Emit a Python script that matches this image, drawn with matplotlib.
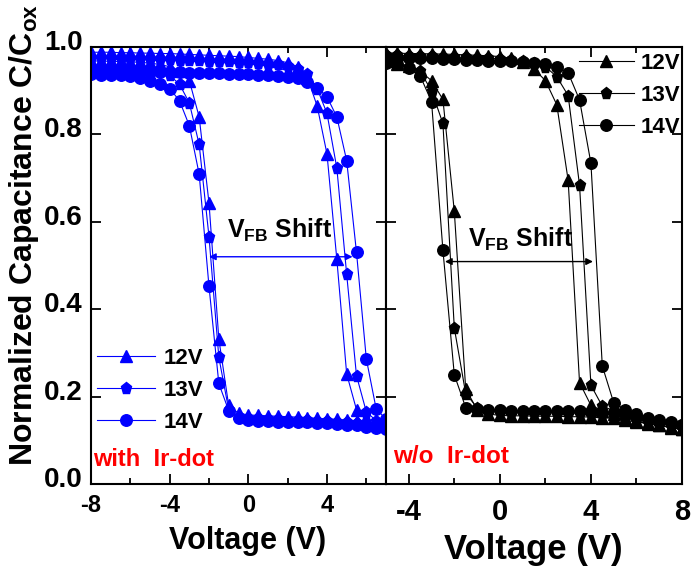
import matplotlib
matplotlib.use('Agg')
import matplotlib.pyplot as plt
from matplotlib.ticker import MultipleLocator
from matplotlib.transforms import ScaledTranslation

plt.rcParams['font.family'] = ['Liberation Sans', 'DejaVu Sans']
plt.rcParams['font.weight'] = 'bold'
plt.rcParams['axes.unicode_minus'] = False
plt.rcParams['mathtext.fontset'] = 'custom'
plt.rcParams['mathtext.rm'] = 'Liberation Sans:bold'
plt.rcParams['mathtext.bf'] = 'Liberation Sans:bold'
plt.rcParams['mathtext.it'] = 'Liberation Sans:bold'

# gate voltage sweep (V)
volt = [-8, -7.5, -7, -6.5, -6, -5.5, -5, -4.5, -4, -3.5, -3, -2.5, -2, -1.5, -1, -0.5,
        0, 0.5, 1, 1.5, 2, 2.5, 3, 3.5, 4, 4.5, 5, 5.5, 6, 6.5, 7, 7.5, 8]

# with Ir-dot, forward (up) and reverse (dn) sweeps
with_12_up = [0.988, 0.988, 0.988, 0.987, 0.987, 0.986, 0.986, 0.985, 0.985, 0.984, 0.983, 0.982, 0.981, 0.980, 0.979, 0.978,
              0.976, 0.974, 0.972, 0.969, 0.964, 0.955, 0.930, 0.865, 0.755, 0.514, 0.252, 0.170, 0.150, 0.140, 0.134, 0.129, 0.125]
with_12_dn = [0.968, 0.968, 0.967, 0.967, 0.966, 0.965, 0.963, 0.960, 0.955, 0.945, 0.923, 0.840, 0.643, 0.332, 0.180, 0.162,
              0.158, 0.157, 0.156, 0.155, 0.154, 0.153, 0.152, 0.150, 0.149, 0.148, 0.146, 0.144, 0.141, 0.137, 0.133, 0.129, 0.126]
with_13_up = [0.975, 0.975, 0.975, 0.974, 0.974, 0.973, 0.973, 0.972, 0.972, 0.971, 0.970, 0.970, 0.969, 0.968, 0.967, 0.966,
              0.965, 0.964, 0.962, 0.960, 0.957, 0.950, 0.938, 0.905, 0.848, 0.723, 0.480, 0.248, 0.165, 0.145, 0.137, 0.132, 0.128]
with_13_dn = [0.955, 0.955, 0.954, 0.954, 0.953, 0.952, 0.950, 0.945, 0.935, 0.915, 0.872, 0.777, 0.566, 0.290, 0.170, 0.154,
              0.151, 0.150, 0.149, 0.148, 0.147, 0.146, 0.146, 0.145, 0.144, 0.143, 0.141, 0.139, 0.136, 0.133, 0.130, 0.127, 0.124]
with_14_up = [0.945, 0.945, 0.945, 0.944, 0.944, 0.944, 0.943, 0.943, 0.942, 0.942, 0.941, 0.941, 0.940, 0.940, 0.939, 0.939,
              0.938, 0.937, 0.936, 0.934, 0.932, 0.928, 0.920, 0.907, 0.886, 0.840, 0.740, 0.530, 0.286, 0.172, 0.148, 0.138, 0.132]
with_14_dn = [0.938, 0.937, 0.936, 0.935, 0.934, 0.930, 0.923, 0.916, 0.905, 0.877, 0.820, 0.709, 0.452, 0.230, 0.168, 0.150,
              0.146, 0.145, 0.144, 0.143, 0.142, 0.142, 0.141, 0.140, 0.139, 0.138, 0.136, 0.134, 0.131, 0.128, 0.125, 0.122, 0.119]

# w/o Ir-dot
wo_12_up = [0.988, 0.988, 0.988, 0.987, 0.987, 0.987, 0.986, 0.986, 0.985, 0.985, 0.984, 0.984, 0.983, 0.982, 0.981, 0.980,
            0.978, 0.974, 0.966, 0.950, 0.923, 0.868, 0.695, 0.232, 0.180, 0.168, 0.160, 0.152, 0.145, 0.139, 0.134, 0.129, 0.125]
wo_12_dn = [0.972, 0.972, 0.971, 0.971, 0.970, 0.969, 0.967, 0.962, 0.956, 0.945, 0.923, 0.880, 0.624, 0.218, 0.170, 0.160,
            0.157, 0.156, 0.156, 0.155, 0.155, 0.155, 0.154, 0.154, 0.153, 0.152, 0.150, 0.146, 0.142, 0.138, 0.134, 0.130, 0.126]
wo_13_up = [0.983, 0.983, 0.983, 0.982, 0.982, 0.982, 0.981, 0.981, 0.980, 0.980, 0.979, 0.978, 0.977, 0.976, 0.975, 0.974,
            0.973, 0.971, 0.968, 0.963, 0.955, 0.932, 0.889, 0.684, 0.226, 0.178, 0.168, 0.160, 0.152, 0.146, 0.140, 0.135, 0.130]
wo_13_dn = [0.976, 0.976, 0.975, 0.975, 0.974, 0.972, 0.969, 0.963, 0.955, 0.944, 0.900, 0.825, 0.357, 0.207, 0.175, 0.168,
            0.166, 0.165, 0.165, 0.164, 0.164, 0.163, 0.163, 0.162, 0.162, 0.161, 0.158, 0.153, 0.148, 0.143, 0.139, 0.135, 0.131]
wo_14_up = [0.978, 0.978, 0.978, 0.977, 0.977, 0.977, 0.976, 0.976, 0.975, 0.975, 0.974, 0.973, 0.972, 0.971, 0.970, 0.969,
            0.968, 0.967, 0.966, 0.964, 0.961, 0.955, 0.941, 0.879, 0.734, 0.270, 0.186, 0.170, 0.160, 0.152, 0.146, 0.141, 0.136]
wo_14_dn = [0.968, 0.968, 0.967, 0.967, 0.966, 0.965, 0.963, 0.960, 0.952, 0.934, 0.875, 0.535, 0.250, 0.175, 0.172, 0.170,
            0.169, 0.168, 0.168, 0.167, 0.167, 0.167, 0.166, 0.166, 0.165, 0.165, 0.163, 0.158, 0.153, 0.148, 0.143, 0.139, 0.135]

labels = ['12V', '13V', '14V']
markers = ['^', 'p', 'o']

fig = plt.figure(figsize=(6.91, 5.72), dpi=100)
ax1 = fig.add_axes([91 / 691, 88 / 572, 295 / 691, 437 / 572])
ax2 = fig.add_axes([386 / 691, 88 / 572, 296 / 691, 437 / 572])

with_sets = [(with_12_up, with_12_dn), (with_13_up, with_13_dn), (with_14_up, with_14_dn)]
wo_sets = [(wo_12_up, wo_12_dn), (wo_13_up, wo_13_dn), (wo_14_up, wo_14_dn)]

loop_v = volt + volt[::-1]
for (up, dn), lab, mk in zip(with_sets, labels, markers):
    ax1.plot(loop_v, up + dn[::-1], color='blue', marker=mk, ms=8.3, lw=0.8, label=lab)
for (up, dn), lab, mk in zip(wo_sets, labels, markers):
    ax2.plot(loop_v, up + dn[::-1], color='black', marker=mk, ms=8.3, lw=0.8, label=lab)

ax1.set_xlim(-8, 7)
ax2.set_xlim(-5, 8)
for ax in (ax1, ax2):
    ax.set_ylim(0, 1.0)
    ax.xaxis.set_major_locator(MultipleLocator(4))
    ax.xaxis.set_minor_locator(MultipleLocator(2))
    ax.yaxis.set_major_locator(MultipleLocator(0.2))
    ax.tick_params(which='both', direction='in', top=True, right=True, width=1.3)
    ax.tick_params(which='major', length=7)
    ax.tick_params(which='minor', length=4)
    for sp in ax.spines.values():
        sp.set_linewidth(1.5)

ax1.tick_params(axis='x', labelsize=17, pad=7)
ax1.tick_params(axis='y', labelsize=20, pad=6)
ax2.tick_params(axis='x', labelsize=21, pad=10)
ax2.tick_params(axis='y', labelleft=False)

ax1.set_yticks([0.0, 0.2, 0.4, 0.6, 0.8, 1.0])
ax1.set_yticklabels(['0.0', '0.2', '0.4', '0.6', '0.8', '1.0'])
shift = ScaledTranslation(0, 7 / 100, fig.dpi_scale_trans)
for lbl in ax1.get_yticklabels():
    lbl.set_transform(lbl.get_transform() + shift)

ax1.set_ylabel(r'Normalized Capacitance C/C$_{\mathbf{ox}}$', fontsize=23, fontweight='bold')
ax1.yaxis.set_label_coords(-0.17, 0.571)
ax1.set_xlabel('Voltage (V)', fontsize=22, fontweight='bold')
ax1.xaxis.set_label_coords(0.53, -0.095)
ax2.set_xlabel('Voltage (V)', fontsize=25, fontweight='bold')
ax2.xaxis.set_label_coords(0.498, -0.112)

ax1.legend(loc='upper left', bbox_to_anchor=(0.02, 0.312), frameon=False,
           prop={'size': 16, 'weight': 'bold'}, handlelength=2.6, handletextpad=0.4,
           labelspacing=0.5, borderpad=0, borderaxespad=0)
ax2.legend(loc='upper right', bbox_to_anchor=(0.995, 0.987), frameon=False,
           prop={'size': 16, 'weight': 'bold'}, handlelength=2.5, handletextpad=0.3,
           labelspacing=0.5, borderpad=0, borderaxespad=0)

ax1.annotate('', xy=(-2.0, 0.52), xytext=(5.3, 0.52),
             arrowprops=dict(arrowstyle='<|-|>', color='blue', lw=1, mutation_scale=10, shrinkA=0, shrinkB=0))
ax1.text(-1.1, 0.564, r'V$_{\mathbf{FB}}$ Shift', fontsize=18, fontweight='bold', ha='left', va='baseline')
ax2.annotate('', xy=(-2.41, 0.509), xytext=(4.09, 0.509),
             arrowprops=dict(arrowstyle='<|-|>', color='black', lw=1, mutation_scale=10, shrinkA=0, shrinkB=0))
ax2.text(-1.4, 0.543, r'V$_{\mathbf{FB}}$ Shift', fontsize=18, fontweight='bold', ha='left', va='baseline')

ax1.text(-7.9, 0.041, 'with  Ir-dot', color='red', fontsize=17, fontweight='bold', ha='left', va='baseline')
ax2.text(-4.7, 0.048, 'w/o  Ir-dot', color='red', fontsize=17.5, fontweight='bold', ha='left', va='baseline')

fig.savefig('out.png', dpi=100)
